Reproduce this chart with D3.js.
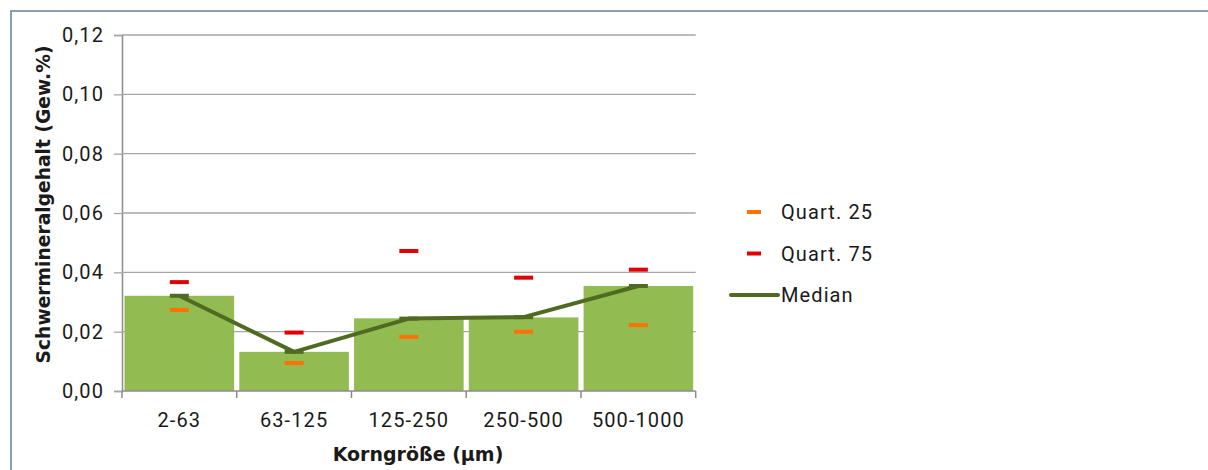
<!DOCTYPE html>
<html>
<head>
<meta charset="utf-8">
<script src="https://cdn.jsdelivr.net/npm/d3@7"></script>
<style>
  html, body { margin: 0; padding: 0; background: #fff; }
  svg { display: block; }
  text { font-family: "DejaVu Sans", sans-serif; fill: #1a1a1a; }
  .lt { font-family: Roboto, "DejaVu Sans", sans-serif; font-weight: 400; letter-spacing: 1.1px; }
</style>
</head>
<body>
<svg id="chart" width="1208" height="470"></svg>
<script>
const categories = ["2-63", "63-125", "125-250", "250-500", "500-1000"];
const barValues  = [0.0321, 0.0132, 0.0245, 0.0248, 0.0354];
const median     = [0.0321, 0.0132, 0.0244, 0.0249, 0.0354];
const quart25    = [0.0273, 0.0094, 0.0182, 0.0200, 0.0222];
const quart75    = [0.0367, 0.0197, 0.0472, 0.0382, 0.0409];
const yTicks     = [0, 0.02, 0.04, 0.06, 0.08, 0.10, 0.12];
const legendItems = ["Quart. 25", "Quart. 75", "Median"];

(function () {
const colors = {
  bar: "#92bc52",
  median: "#4f6b22",
  q25: "#ff7100",
  q75: "#e00000",
  grid: "#a6a6a6",
  axis: "#8c8c8c",
  frame: "#8aa0ad"
};

const svg = d3.select("#chart");
const pLeft = 122, pRight = 695.7, pTop = 35, pBottom = 391;

const locale = d3.formatLocale({decimal: ",", thousands: ".", grouping: [3], currency: ["", "€"]});
const fmt = locale.format(".2f");

const x = d3.scaleBand().domain(categories).range([pLeft, pRight]).paddingInner(0.045).paddingOuter(0.022);
const y = d3.scaleLinear().domain([0, 0.12]).range([pBottom, pTop]);

// frame
svg.append("path")
  .attr("d", `M11,470 L11,11 L1208,11`)
  .attr("fill", "none").attr("stroke", colors.frame).attr("stroke-width", 2);

// y axis
const yAxis = d3.axisLeft(y).tickValues(yTicks).tickFormat(fmt).tickSize(8).tickPadding(10);
const gy = svg.append("g").attr("transform", `translate(${pLeft},0)`).call(yAxis);
gy.select(".domain").attr("stroke", colors.axis).attr("stroke-width", 1.5);
gy.selectAll(".tick line").attr("stroke", colors.grid).attr("stroke-width", 1.3);
gy.selectAll(".tick text").attr("class", "lt").attr("font-size", 20).attr("font-family", null).attr("fill", "#1a1a1a");

// gridlines
svg.append("g").selectAll("line").data(yTicks.filter(d => d > 0)).join("line")
  .attr("x1", pLeft).attr("x2", pRight)
  .attr("y1", d => y(d)).attr("y2", d => y(d))
  .attr("stroke", colors.grid).attr("stroke-width", 1.3);

// bars
svg.append("g").selectAll("rect").data(categories).join("rect")
  .attr("x", d => x(d))
  .attr("width", x.bandwidth())
  .attr("y", (d, i) => y(barValues[i]))
  .attr("height", (d, i) => y(0) - y(barValues[i]))
  .attr("fill", colors.bar);

// x axis
const gx = svg.append("g").attr("transform", `translate(0,${pBottom})`)
  .call(d3.axisBottom(x).tickSize(0).tickPadding(22));
gx.select(".domain").remove();
gx.selectAll(".tick text").attr("class", "lt").attr("font-size", 20).attr("font-family", null).attr("fill", "#1a1a1a");
svg.append("line").attr("x1", pLeft).attr("x2", pRight).attr("y1", pBottom).attr("y2", pBottom)
  .attr("stroke", colors.axis).attr("stroke-width", 1.5);
const gap = x.step() * x.paddingInner() / 2;
const bounds = categories.map(c => x(c) - gap).concat([x(categories[categories.length - 1]) + x.bandwidth() + gap]);
bounds[0] = pLeft; bounds[bounds.length - 1] = pRight;
svg.append("g").selectAll("line").data(bounds).join("line")
  .attr("x1", d => d).attr("x2", d => d)
  .attr("y1", pBottom).attr("y2", pBottom + 7)
  .attr("stroke", colors.axis).attr("stroke-width", 1.5);

// median line
const cx = d => x(d) + x.bandwidth() / 2;
svg.append("path")
  .datum(categories)
  .attr("d", d3.line().x(d => cx(d)).y((d, i) => y(median[i])))
  .attr("fill", "none").attr("stroke", colors.median).attr("stroke-width", 4)
  .attr("stroke-linejoin", "round");

// dash markers
function dashes(values, color) {
  svg.append("g").selectAll("rect").data(categories).join("rect")
    .attr("x", d => cx(d) - 9.5)
    .attr("width", 19)
    .attr("y", (d, i) => y(values[i]) - 2)
    .attr("height", 4)
    .attr("fill", color);
}
dashes(median, colors.median);
dashes(quart25, colors.q25);
dashes(quart75, colors.q75);

// axis titles
svg.append("text")
  .attr("x", 418).attr("y", 461)
  .attr("text-anchor", "middle")
  .attr("font-size", 19).attr("font-weight", "bold").attr("fill", "#000")
  .text("Korngröße (µm)");
svg.append("text")
  .attr("transform", `translate(50,${(45 + 364) / 2}) rotate(-90)`)
  .attr("text-anchor", "middle")
  .attr("font-size", 18.7).attr("font-weight", "bold").attr("fill", "#000")
  .text("Schwermineralgehalt (Gew.%)");

// legend
const legendColors = [colors.q25, colors.q75, colors.median];
const ly = d3.scalePoint().domain(legendItems).range([212, 295]);
const lg = svg.append("g");
legendItems.forEach((name, i) => {
  const yy = ly(name);
  if (name === "Median") {
    lg.append("line").attr("x1", 731).attr("x2", 778).attr("y1", yy).attr("y2", yy)
      .attr("stroke", legendColors[i]).attr("stroke-width", 4).attr("stroke-linecap", "round");
  } else {
    lg.append("rect").attr("x", 747).attr("width", 14).attr("y", yy - 2).attr("height", 4)
      .attr("fill", legendColors[i]);
  }
  lg.append("text").attr("class", "lt").attr("x", 781).attr("y", yy).attr("dy", "0.36em")
    .attr("font-size", 20).attr("fill", "#1a1a1a").text(name);
});
})();
</script>
</body>
</html>
